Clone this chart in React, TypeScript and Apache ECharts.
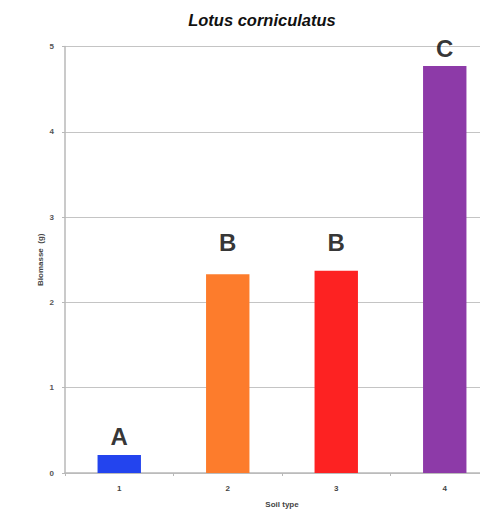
import React, { useEffect, useRef } from "react";
import * as echarts from "echarts";

const categories = ["1", "2", "3", "4"];
const biomass = [0.21, 2.33, 2.37, 4.77];
const barColors = ["#2344ee", "#fd7c2c", "#fd2222", "#8d3aa8"];
const letters = ["A", "B", "B", "C"];
const letterHeights = [0.43, 2.7, 2.7, 4.98];
const yTicks = { min: 0, max: 5, interval: 1 };

export default function App() {
  const ref = useRef<HTMLDivElement>(null);
  useEffect(() => {
    if (!ref.current) return;
    const chart = echarts.init(ref.current, null, { renderer: "svg" });
    const font = "'Liberation Sans', Arial, sans-serif";
    chart.setOption({
      animation: false,
      backgroundColor: "#ffffff",
      textStyle: { fontFamily: font },
      graphic: [
        {
          type: "text",
          x: 262,
          y: 20,
          style: {
            text: "Lotus corniculatus",
            fontFamily: font,
            fontSize: 16.5,
            fontWeight: "bold",
            fontStyle: "italic",
            fill: "#111",
            textAlign: "center",
            textVerticalAlign: "middle",
          },
        },
      ],
      grid: { left: 65, top: 46.5, bottom: 41, right: 1, containLabel: false },
      xAxis: {
        type: "category",
        data: categories,
        name: "Soil type",
        nameLocation: "middle",
        nameGap: 27,
        nameMoveOverlap: false,
        nameTextStyle: { fontSize: 8, fontWeight: "bold", color: "#444", fontFamily: font },
        axisLine: { lineStyle: { color: "#b8b8b8", width: 1.5 } },
        axisTick: { show: true, length: 3, lineStyle: { color: "#b8b8b8" } },
        axisLabel: { fontSize: 8, color: "#444", margin: 11, fontWeight: "bold" },
        splitLine: { show: false },
      },
      yAxis: {
        type: "value",
        min: yTicks.min,
        max: yTicks.max,
        interval: yTicks.interval,
        name: "Biomasse  (g)",
        nameLocation: "middle",
        nameGap: 21,
        nameMoveOverlap: false,
        nameRotate: 90,
        nameTextStyle: { fontSize: 8, fontWeight: "bold", color: "#444", fontFamily: font },
        axisLine: { show: true, lineStyle: { color: "#b8b8b8", width: 1.5 } },
        axisTick: { show: true, length: 3, lineStyle: { color: "#b8b8b8" } },
        axisLabel: { fontSize: 8, color: "#555", margin: 11, fontWeight: "bold" },
        splitLine: { show: true, lineStyle: { color: "#c4c4c4", width: 1 } },
      },
      series: [
        {
          type: "bar",
          barWidth: "40%",
          data: biomass.map((v, i) => ({ value: v, itemStyle: { color: barColors[i] } })),
        },
        {
          type: "scatter",
          symbolSize: 1,
          itemStyle: { color: "rgba(0,0,0,0)" },
          data: letterHeights.map((v, i) => [categories[i], v]),
          label: {
            show: true,
            position: "inside",
            formatter: (p: any) => letters[p.dataIndex],
            fontSize: 24,
            fontWeight: "bold",
            color: "#000000",
            textBorderWidth: 0,
            fontFamily: font,
          },
        },
      ],
    });
    return () => chart.dispose();
  }, []);
  return (
    <div
      style={{ position: "absolute", left: 0, top: 0, width: 480, height: 514, overflow: "hidden" }}
    >
      <div ref={ref} style={{ width: 500, height: 514 }} />
    </div>
  );
}
